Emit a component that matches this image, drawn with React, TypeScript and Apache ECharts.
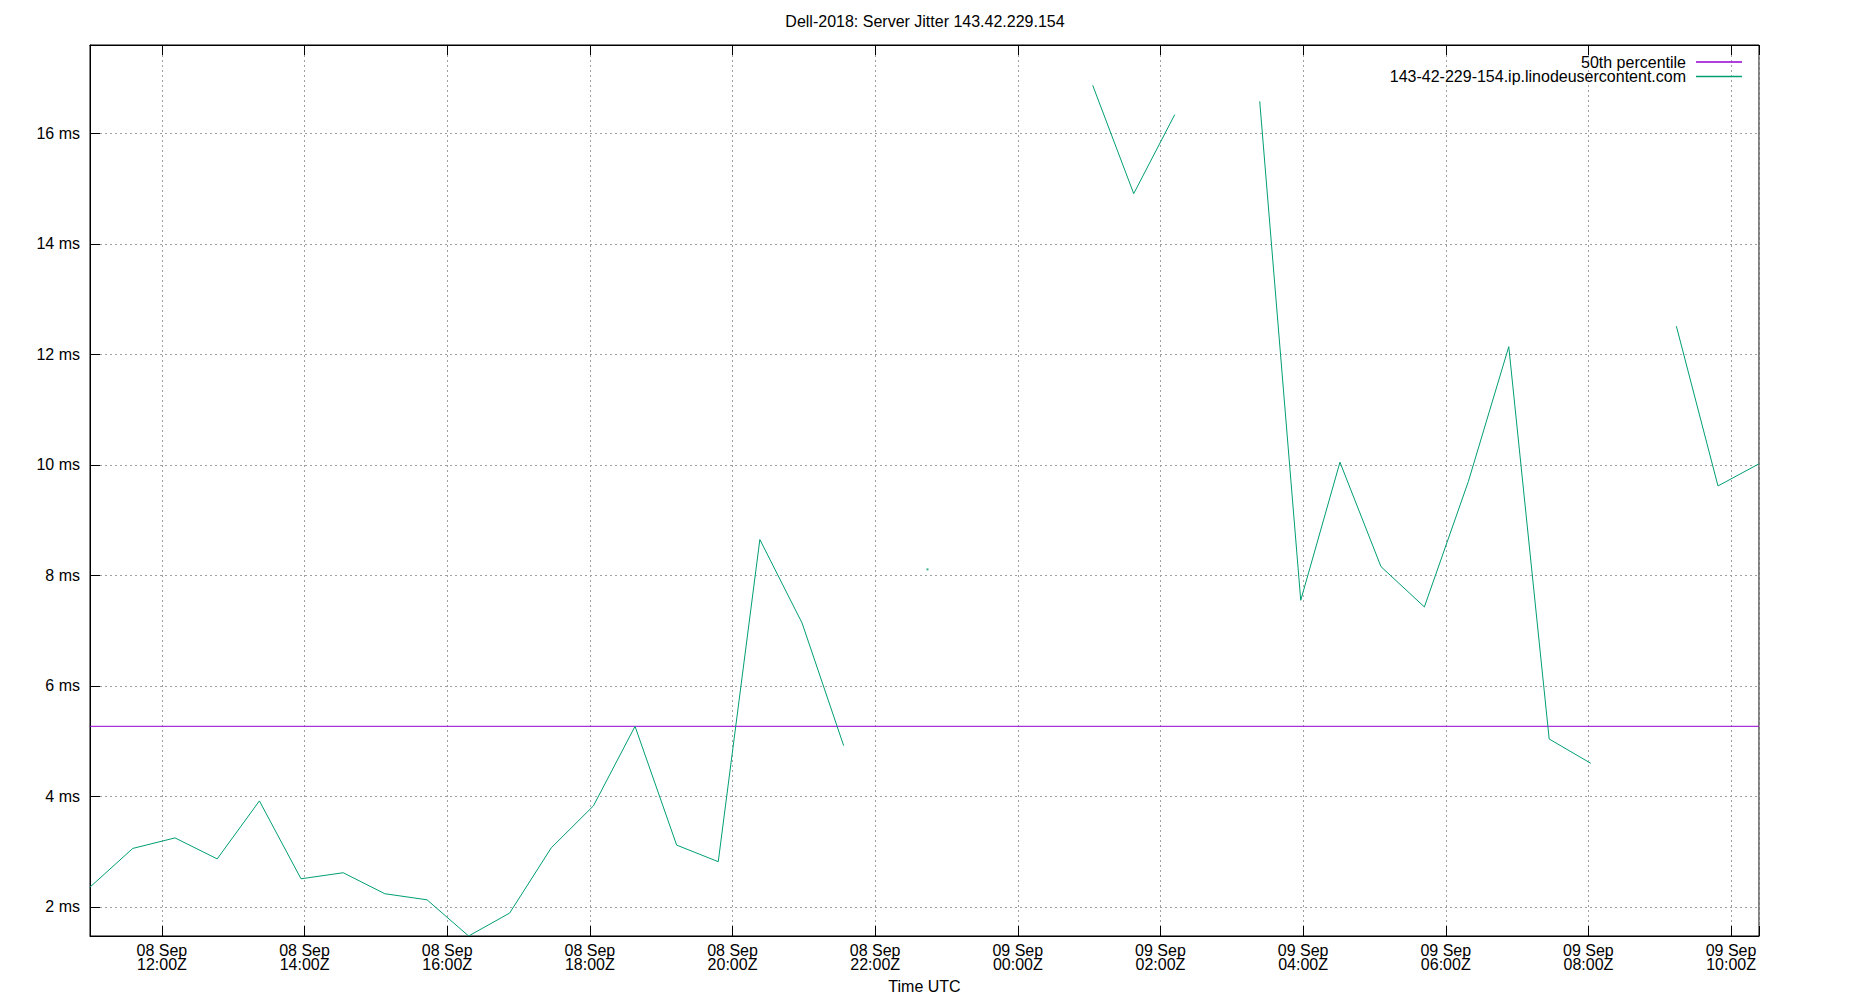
import React, { useEffect, useRef } from "react";
import * as echarts from "echarts";

const chartTitle = "Dell-2018: Server Jitter 143.42.229.154";
const hostName = "143-42-229-154.ip.linodeusercontent.com";
const medianName = "50th percentile";
const xAxisName = "Time UTC";

const sampleTimes: string[] = [
  "2018-09-08T10:59:30Z", "2018-09-08T11:35:30Z", "2018-09-08T12:11:00Z", "2018-09-08T12:46:30Z",
  "2018-09-08T13:22:00Z", "2018-09-08T13:57:00Z", "2018-09-08T14:32:30Z", "2018-09-08T15:07:30Z",
  "2018-09-08T15:43:00Z", "2018-09-08T16:18:00Z", "2018-09-08T16:52:30Z", "2018-09-08T17:27:30Z",
  "2018-09-08T18:03:00Z", "2018-09-08T18:38:00Z", "2018-09-08T19:13:00Z", "2018-09-08T19:48:00Z",
  "2018-09-08T20:23:00Z", "2018-09-08T20:58:30Z", "2018-09-08T21:33:30Z", "2018-09-08T22:08:30Z",
  "2018-09-08T22:44:00Z", "2018-09-08T23:19:00Z", "2018-09-08T23:54:00Z", "2018-09-09T00:29:00Z",
  "2018-09-09T01:03:00Z", "2018-09-09T01:37:30Z", "2018-09-09T02:12:00Z", "2018-09-09T02:48:00Z",
  "2018-09-09T03:23:30Z", "2018-09-09T03:58:00Z", "2018-09-09T04:31:00Z", "2018-09-09T05:05:30Z",
  "2018-09-09T05:42:00Z", "2018-09-09T06:19:00Z", "2018-09-09T06:53:00Z", "2018-09-09T07:27:00Z",
  "2018-09-09T08:02:00Z", "2018-09-09T08:38:00Z", "2018-09-09T09:14:00Z", "2018-09-09T09:49:00Z",
  "2018-09-09T10:23:30Z",
];

const jitterMs: (number | null)[] = [
  2.36, 3.06, 3.25, 2.87,
  3.92, 2.51, 2.62, 2.24,
  2.13, 1.475, 1.89, 3.07,
  3.83, 5.27, 3.12, 2.82,
  8.65, 7.14, 4.92, null,
  8.11, null, null, null,
  16.87, 14.91, 16.34, null,
  16.58, 7.55, 10.05, 8.16,
  7.43, 9.7, 12.14, 5.04,
  4.6, null, 12.51, 9.62,
  10.02,
];

const medianMs = 5.27;
const yMin = 1.475;
const yMax = 17.6;

const EPOCH = Date.parse("2018-09-08T00:00:00Z");
const MONTHS = ["Jan", "Feb", "Mar", "Apr", "May", "Jun", "Jul", "Aug", "Sep", "Oct", "Nov", "Dec"];

const toHours = (iso: string) => (Date.parse(iso) - EPOCH) / 3600000;

const pad2 = (n: number) => (n < 10 ? "0" + n : String(n));

function formatHourLabel(h: number): string {
  if (Math.abs(h / 2 - Math.round(h / 2)) > 1e-6) return "";
  const d = new Date(EPOCH + Math.round(h) * 3600000);
  return `${pad2(d.getUTCDate())} ${MONTHS[d.getUTCMonth()]}\n${pad2(d.getUTCHours())}:${pad2(d.getUTCMinutes())}Z`;
}

const FONT = "'Liberation Sans', Arial, sans-serif";

export default function App() {
  const ref = useRef<HTMLDivElement>(null);

  useEffect(() => {
    if (!ref.current) return;
    const chart = echarts.init(ref.current, null, { renderer: "svg" });

    const xs = sampleTimes.map(toHours);
    const xMin = xs[0];
    const xMax = xs[xs.length - 1];
    const lineData = xs.map((x, i) => [x, jitterMs[i] === null ? null : jitterMs[i]]);
    const isolated = xs
      .map((x, i) => ({ x, v: jitterMs[i], prev: jitterMs[i - 1], next: jitterMs[i + 1] }))
      .filter((p) => p.v != null && p.prev == null && p.next == null && p.x !== xMin && p.x !== xMax)
      .map((p) => [p.x, p.v]);

    const gridLine = { show: true, lineStyle: { color: "#a0a0a0", width: 1, type: [2, 3] as number[] } };

    chart.setOption({
      animation: false,
      backgroundColor: "#ffffff",
      textStyle: { fontFamily: FONT },
      title: {
        text: chartTitle,
        left: "center",
        top: 13,
        padding: 0,
        textStyle: { fontFamily: FONT, fontSize: 16, fontWeight: "normal", color: "#000" },
      },
      legend: {
        data: [
          { name: medianName, icon: "rect" },
          { name: hostName, icon: "rect" },
        ],
        orient: "vertical",
        right: 108,
        top: 54,
        padding: 0,
        align: "right",
        itemWidth: 46,
        itemHeight: 1.3,
        itemGap: -1.5,
        selectedMode: false,
        textStyle: {
          fontFamily: FONT,
          fontSize: 16,
          lineHeight: 15,
          color: "#000",
          padding: [0, 5, 0, 0],
        },
      },
      grid: {
        left: 90,
        right: 91,
        top: 45,
        bottom: 64,
        show: true,
        borderColor: "#000",
        borderWidth: 1,
        backgroundColor: "transparent",
        containLabel: false,
      },
      xAxis: [
        {
          type: "value",
          min: xMin,
          max: xMax,
          splitNumber: 12,
          name: xAxisName,
          nameLocation: "middle",
          nameGap: 42,
          nameTextStyle: { fontFamily: FONT, fontSize: 16, color: "#000" },
          axisLine: { show: true, lineStyle: { color: "#000", width: 1 } },
          axisTick: { show: true, inside: true, length: 10, lineStyle: { color: "#000" } },
          axisLabel: {
            show: true,
            margin: 7,
            fontFamily: FONT,
            fontSize: 16,
            lineHeight: 14,
            color: "#000",
            formatter: (v: number) => formatHourLabel(v),
          },
          splitLine: gridLine,
        },
        {
          type: "value",
          position: "top",
          min: xMin,
          max: xMax,
          splitNumber: 12,
          axisLine: { show: true, lineStyle: { color: "#000", width: 1 } },
          axisTick: { show: true, inside: true, length: 10, lineStyle: { color: "#000" } },
          axisLabel: { show: false },
          splitLine: { show: false },
        },
      ],
      yAxis: {
        type: "value",
        min: yMin,
        max: yMax,
        splitNumber: 8,
        axisLine: { show: true, lineStyle: { color: "#000", width: 1 } },
        axisTick: { show: true, inside: true, length: 10, lineStyle: { color: "#000" } },
        axisLabel: {
          margin: 10,
          fontFamily: FONT,
          fontSize: 16,
          color: "#000",
          formatter: (v: number) =>
            Math.abs(v - Math.round(v)) > 1e-6 ? "" : `${Math.round(v)} ms`,
        },
        splitLine: gridLine,
      },
      series: [
        {
          name: medianName,
          type: "line",
          symbol: "none",
          data: [
            [xMin, medianMs],
            [xMax, medianMs],
          ],
          lineStyle: { color: "#9400d3", width: 1 },
          itemStyle: { color: "#9400d3" },
          z: 2,
        },
        {
          name: hostName,
          type: "line",
          symbol: "none",
          connectNulls: false,
          data: lineData,
          lineStyle: { color: "#009e73", width: 1 },
          itemStyle: { color: "#009e73" },
          z: 3,
        },
        {
          name: "isolated",
          type: "scatter",
          symbol: "rect",
          symbolSize: 2,
          data: isolated,
          itemStyle: { color: "#009e73" },
          z: 3,
        },
      ],
    });

    return () => chart.dispose();
  }, []);

  return (
    <div
      ref={ref}
      style={{ position: "absolute", left: 0, top: 0, width: 1850, height: 1000, background: "#fff" }}
    />
  );
}
